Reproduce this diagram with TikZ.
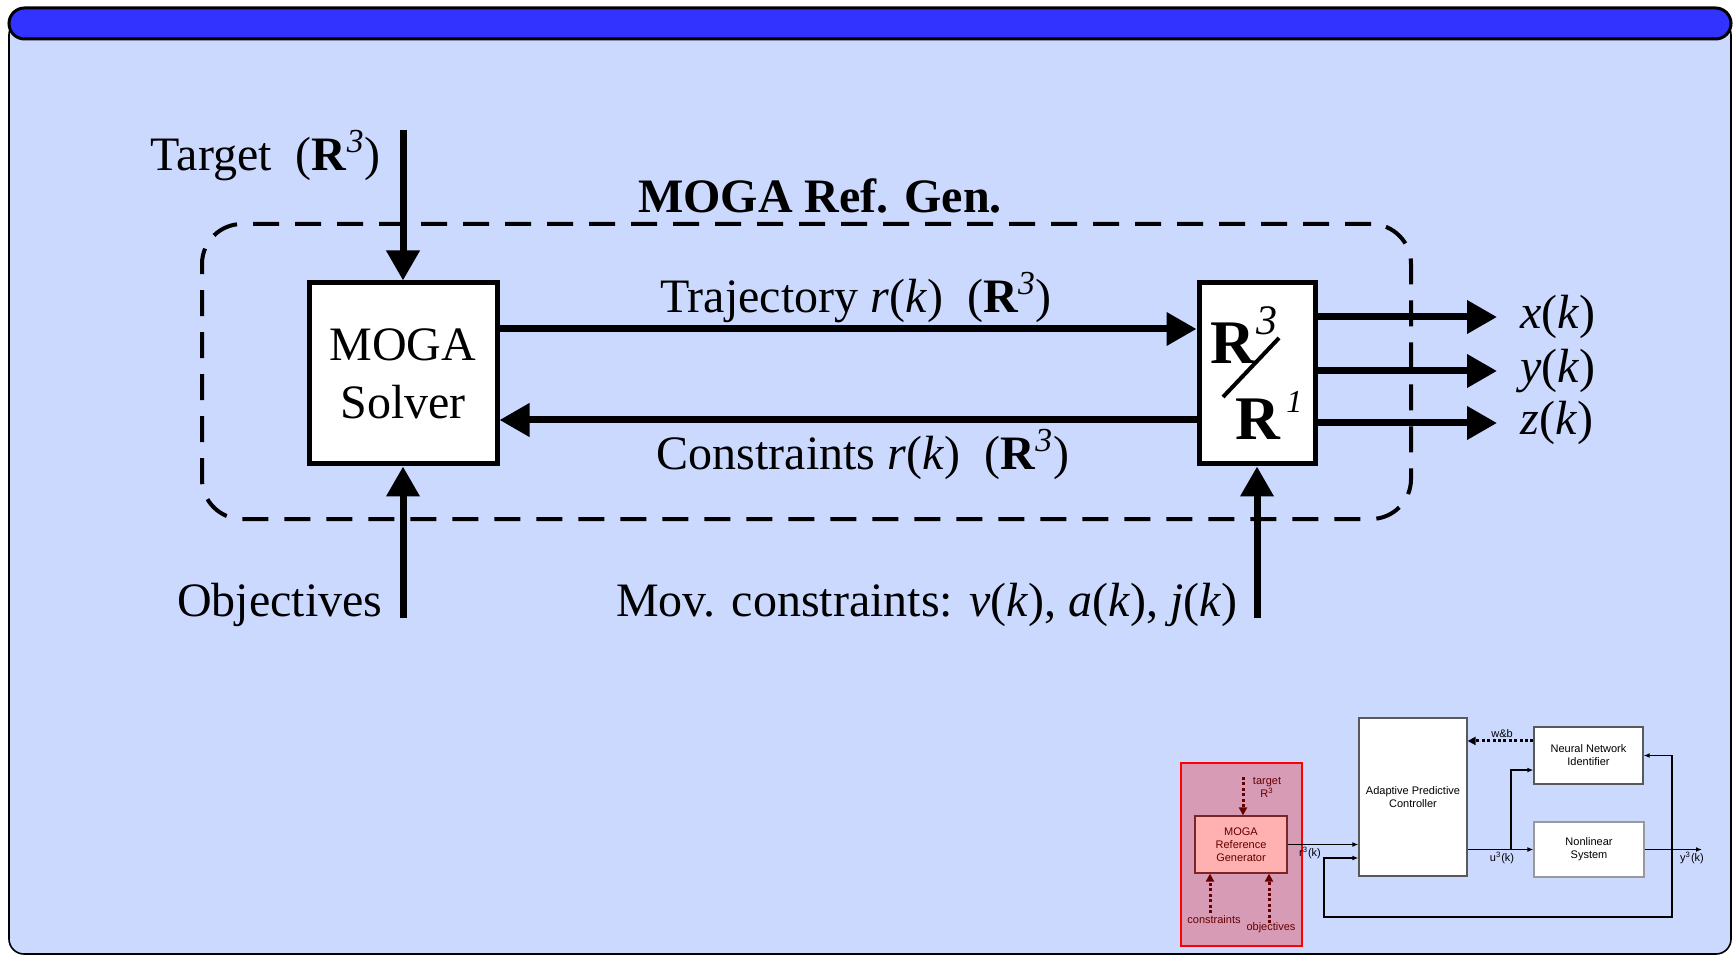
\documentclass[tikz,border=0pt]{standalone}
\usepackage{fontspec}
\setmainfont{Liberation Serif}
\newfontfamily\insetsans{Liberation Sans}
\usetikzlibrary{arrows.meta,calc,positioning}

\definecolor{panelblue}{RGB}{204,217,255}
\definecolor{barblue}{RGB}{51,51,255}
\definecolor{genfill}{RGB}{216,155,182}
\definecolor{mogafill}{RGB}{255,176,176}
\definecolor{darkred}{RGB}{100,0,0}

\newcommand\diagtxt{\fontsize{24}{29}\selectfont}
\newcommand\insettxt{\insetsans\fontsize{5.5}{6.5}\selectfont}

\begin{document}
\begin{tikzpicture}[x=0.5pt, y=-0.5pt, >=Stealth,
  block/.style={draw, line width=2.5pt, fill=white, inner sep=0pt, font=\diagtxt, align=center},
  groupbox/.style={draw, line width=2pt, dash pattern=on 13pt off 8pt, rounded corners=20pt, inner sep=0pt},
  flow/.style={line width=3.5pt, -{Triangle[length=15pt,width=16pt]}},
  lbl/.style={inner sep=0pt, font=\diagtxt},
  outlbl/.style={inner sep=0pt, font=\diagtxt, anchor=west},
  smallbox/.style={draw=black!65, line width=0.6pt, fill=white, inner sep=0pt, font=\insettxt, align=center},
  sig/.style={line width=0.6pt, -{Latex[length=3pt,width=2.4pt]}},
  dots/.style={darkred, line width=1.5pt, dash pattern=on 1.5pt off 1.2pt, -{Triangle[length=4pt,width=4pt]}},
  tiny/.style={inner sep=0pt, font=\insettxt}]

  % Panel
  \fill[white] (0,0) rectangle (1733,956);
  \useasboundingbox (0,0) rectangle (1733,956);
  \draw[fill=panelblue, line width=0.8pt, rounded corners=7.5pt] (9,20) rectangle (1731,954);
  \draw[fill=barblue, line width=1.5pt, rounded corners=7.75pt] (9,8) rectangle (1731,39);

  % Reference generator group
  \node[groupbox, minimum width=604.5pt, minimum height=147.5pt] (group) at (806.5,371.5) {};
  \node[lbl, font=\diagtxt\bfseries, anchor=base] (grouplbl) at (820,213) {MOGA Ref. Gen.};

  % Solver and R3/R1 blocks
  \node[block, minimum width=94pt, minimum height=90.5pt] (solver) at (403,373.5) {MOGA\\Solver};
  \node[block, minimum width=58pt, minimum height=90.5pt] (conv) at (1257,373.5) {};
  \node[inner sep=0pt, anchor=base west, font=\fontsize{31}{31}\selectfont\bfseries] (rthree) at (1210,364) {R};
  \node[inner sep=0pt, anchor=base west, font=\fontsize{21}{21}\selectfont\itshape] (sthree) at (1256,335) {3};
  \draw[line width=2pt] (1223,397) -- (1279,338);
  \node[inner sep=0pt, anchor=base west, font=\fontsize{31}{31}\selectfont\bfseries] (rone) at (1235,440) {R};
  \node[inner sep=0pt, anchor=base west, font=\fontsize{16}{16}\selectfont\itshape] (sone) at (1286,413) {1};

  % Inputs
  \coordinate (tgt) at (403,130);
  \coordinate (obj) at (403,618);
  \coordinate (mov) at (1257,618);
  \draw[flow] (tgt) -- (solver.north);
  \draw[flow] (obj) -- (solver.south);
  \draw[flow] (mov) -- (conv.south);
  \node[lbl, anchor=base east] (tgtlbl) at (381,171) {Target\ \ (\textbf{R}\textsuperscript{\textit{3}})};
  \node[lbl, anchor=base east] (objlbl) at (383,616) {Objectives};
  \node[lbl, anchor=base east] (movlbl) at (1238,616) {Mov. constraints: \textit{v}(\textit{k}), \textit{a}(\textit{k}), \textit{j}(\textit{k})};

  % Trajectory / constraints
  \draw[flow] ([yshift=22.25pt]solver.east) -- ([yshift=22.25pt]conv.west);
  \draw[flow] ([yshift=-23.25pt]conv.west) -- ([yshift=-23.25pt]solver.east);
  \node[lbl, anchor=base] (trajlbl) at (856,313) {Trajectory \textit{r}(\textit{k})\ \ (\textbf{R}\textsuperscript{\textit{3}})};
  \node[lbl, anchor=base] (conslbl) at (863,470) {Constraints \textit{r}(\textit{k})\ \ (\textbf{R}\textsuperscript{\textit{3}})};

  % Outputs
  \node[outlbl] (xk) at (1520,317) {\textit{x}(\textit{k})};
  \node[outlbl] (yk) at (1520,371) {\textit{y}(\textit{k})};
  \node[outlbl] (zk) at (1520,423) {\textit{z}(\textit{k})};
  \foreach \o in {xk,yk,zk}
    \draw[flow] (conv.east |- \o.west) -- ([xshift=-11.5pt]\o.west);

  % Inset: closed loop
  \node[draw=red, line width=1pt, fill=genfill, minimum width=60.5pt, minimum height=91.5pt, inner sep=0pt] (genarea) at (1241.5,854.5) {};
  \node[draw=darkred!85, line width=0.6pt, fill=mogafill, text=darkred, font=\insettxt, align=center,
        minimum width=46pt, minimum height=28.5pt, inner sep=0pt] (refgen) at (1241,844.5) {MOGA\\Reference\\Generator};
  \node[smallbox, minimum width=54pt, minimum height=79pt] (apc) at (1413,797) {Adaptive Predictive\\Controller};
  \node[smallbox, minimum width=54.5pt, minimum height=28.5pt] (nni) at (1588.5,755.5) {Neural Network\\Identifier};
  \node[smallbox, draw=black!40, minimum width=55pt, minimum height=27.5pt] (nls) at (1589,849.5) {Nonlinear\\System};

  \coordinate (tgtin) at (1243,777);
  \coordinate (consin) at (1210,913);
  \coordinate (objin) at (1269,923);
  \draw[dots] (tgtin) -- (tgtin |- refgen.north);
  \draw[dots] (consin) -- (consin |- refgen.south);
  \draw[dots] (objin) -- (objin |- refgen.south);
  \node[tiny, text=darkred, align=center] (tgttxt) at (1267,787) {target\\R\textsuperscript{3}};
  \node[tiny, text=darkred] (constxt) at (1214,920) {constraints};
  \node[tiny, text=darkred] (objtxt) at (1271,928) {objectives};

  \draw[sig] (refgen.east) -- (refgen.east -| apc.west);
  \node[tiny] (rlbl) at (1310,853) {r\textsuperscript{3}(k)};

  \coordinate (ubr) at (1511,849.5);
  \coordinate (fbtap) at (1672,849.5);
  \coordinate (yout) at (1702,849.5);
  \coordinate (uin) at ($(nni.west)!0.5!(nni.south west)$);
  \coordinate (wbout) at ($(nni.west)!0.5!(nni.north west)$);
  \draw[sig] (apc.east |- nls.west) -- (nls.west);
  \draw[sig] (ubr) |- (uin);
  \draw[sig] (nls.east) -- (yout);
  \draw[line width=1.5pt, dash pattern=on 1.5pt off 1.2pt, -{Triangle[length=4pt,width=4pt]}]
    (wbout) -- (wbout -| apc.east);
  \node[tiny] (wblbl) at (1502,734) {w\&b};
  \node[tiny] (ulbl) at (1502,858) {u\textsuperscript{3}(k)};
  \node[tiny] (ylbl) at (1692,858) {y\textsuperscript{3}(k)};

  % Feedback
  \coordinate (fbbot) at (1672,917);
  \coordinate (fbin) at (1324,858);
  \draw[sig] (fbtap) |- (nni.east);
  \draw[sig] (fbtap) -- (fbbot) -| (fbin) -- (fbin -| apc.west);
\end{tikzpicture}
\end{document}
